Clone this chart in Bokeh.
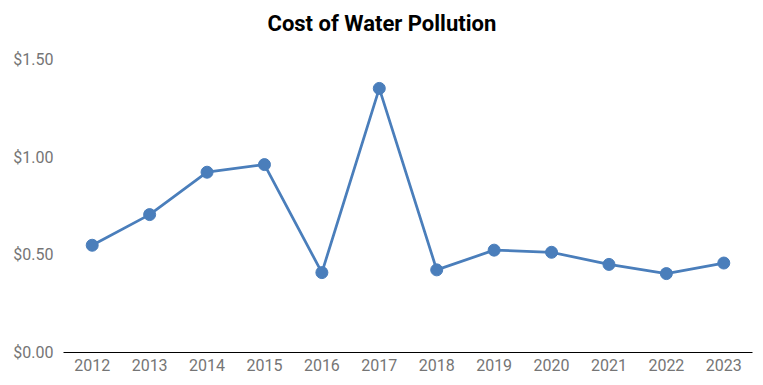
from bokeh.plotting import figure
from bokeh.models import NumeralTickFormatter, Range1d, FactorRange, FixedTicker, Title
from bokeh.embed import file_html
from bokeh.resources import INLINE

years = ["2012", "2013", "2014", "2015", "2016", "2017", "2018", "2019", "2020", "2021", "2022", "2023"]
cost = [0.549, 0.706, 0.923, 0.962, 0.409, 1.352, 0.423, 0.524, 0.513, 0.451, 0.404, 0.458]
y_ticks = [0.0, 0.5, 1.0, 1.5]
title_text = "Cost of Water Pollution"

color = "#4A7EBB"
font = "Roboto"

p = figure(
    width=755, height=377,
    x_range=FactorRange(factors=years, range_padding=0),
    y_range=Range1d(0, 1.5),
    output_backend="svg", toolbar_location=None,
    min_border_left=63, min_border_right=3, min_border_top=59, min_border_bottom=25,
)

p.line(years, cost, line_color=color, line_width=2.75)
p.scatter(years, cost, size=12, fill_color=color, line_color=color)

# spacer between frame and title (closest to the frame), then the title
p.add_layout(Title(text=" ", text_font_size="1px", standoff=16), "above")
p.add_layout(Title(
    text=title_text, align="left", offset=204, standoff=10,
    text_font=font, text_font_size="22px", text_font_style="bold",
    text_color="#000000",
), "above")

p.xgrid.visible = False
p.ygrid.visible = False
p.outline_line_color = None

p.yaxis.ticker = FixedTicker(ticks=y_ticks)
p.yaxis.formatter = NumeralTickFormatter(format="$0.00")
p.yaxis.axis_line_color = None
p.yaxis.major_label_standoff = 10

p.xaxis.axis_line_color = "#000000"
p.xaxis.axis_line_width = 1
p.xaxis.major_label_standoff = 6

for ax in (p.xaxis, p.yaxis):
    ax.major_tick_line_color = None
    ax.minor_tick_line_color = None
    ax.major_tick_out = 0
    ax.major_tick_in = 0
    ax.minor_tick_out = 0
    ax.minor_tick_in = 0
    ax.major_label_text_font = font
    ax.major_label_text_font_size = "16px"
    ax.major_label_text_color = "#757575"

open("out.html", "w").write(file_html(p, INLINE))
